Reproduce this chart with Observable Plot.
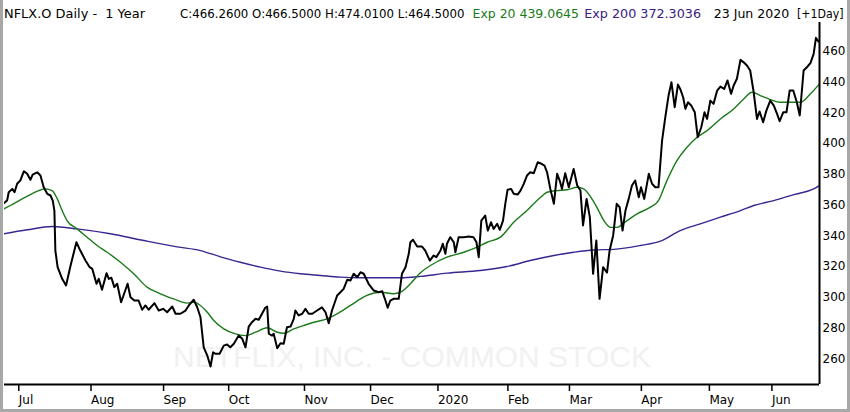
<!DOCTYPE html>
<html><head><meta charset="utf-8">
<script src="https://cdn.jsdelivr.net/npm/d3@7"></script>
<script src="https://cdn.jsdelivr.net/npm/@observablehq/plot@0.6"></script>
<style>
html,body{margin:0;padding:0;background:#fff;}
#wrap{position:relative;width:850px;height:412px;overflow:hidden;background:#fff;}
#hdr{position:absolute;left:0;top:0;}
#chart{position:absolute;left:3px;top:22px;}
#border{position:absolute;left:0;top:0;width:850px;height:412px;box-sizing:border-box;border-left:3px solid #a8a8a8;border-right:3px solid #a8a8a8;border-bottom:3px solid #a8a8a8;pointer-events:none;}
</style></head>
<body><div id="wrap"><svg id="hdr" width="850" height="22"></svg><div id="chart"></div><div id="border"></div></div>
<script>
// ---- data (x = trading-day index since 24 Jun 2019) ----
const closeDay = [0.3,1.3,1.8,2.9,3.6,4.4,5.4,6.5,7.5,8.5,9.2,10.6,11.6,12.6,13.7,14.7,15.4,15.9,16.2,16.9,18.3,19.5,20.9,22.7,23.9,25.5,26.8,27.6,28.9,29.6,30.6,32,32.7,33.5,34.4,35.3,36.5,38.5,39.4,40.6,41.9,43,44,45,46.8,48.1,49.5,50.7,52.3,53.3,54.8,56.4,57.4,58.9,60,61,62,63.1,64.1,64.9,65.6,66.9,68.2,69.2,70.2,71.3,72.8,73.9,74.9,75.9,76.9,78,79,80,81,81.6,82.1,83.1,83.6,84.7,85.7,86.7,87.7,88.8,89.8,90.3,91.3,92.4,93.4,94.4,95.5,97,98.5,99.6,100.6,101.6,103.2,104.2,105.2,106.3,107.3,108.3,109.4,110.4,111.4,112.9,114.5,116,117.1,118.1,118.8,119.6,120.6,122.2,123.2,124.3,125.3,125.8,126.6,127.9,129.4,130.4,131.8,133,133.8,135.1,135.8,136.6,137.1,138.1,139.2,139.7,140.7,142.3,143.8,145.3,146.2,146.9,147.7,148.9,149.7,150.7,151.5,152.6,153.4,154.4,155.1,155.8,156.9,157.7,158.9,159.8,160.8,161.8,162.8,163.9,165.1,165.9,167.2,168,169,170.1,171.1,171.9,172.6,173.6,174.7,176.2,177.3,178.3,179.1,180.2,181.2,182.2,183.2,184.2,185.3,186.5,187.3,188.4,189.5,190.4,191.3,192.2,193.2,194.2,195.2,196.3,197,198,199.4,200.4,201.4,202.4,203.5,204.5,205.5,206.4,207.4,208.4,209.1,210,210.7,211.5,212.5,213.6,214.5,215.6,216.6,217.4,218.4,219.4,220.5,221.5,222.7,223.7,224.8,225.6,226.6,227.7,228.7,229.7,230.7,231.7,232.8,233.6,234.7,235.7,236.9,238,239,239.8,240.9,241.9,242.9,244,245.1,246,247.2,248.2,249.3,250.3,251,251.8];
const closeVal = [361.2,362.9,368.3,370.5,368.3,373.8,376,382,380.3,376.4,379.8,381.3,379.2,371.6,367.3,366.2,362.9,356.4,330.4,319.6,312,307.7,320.7,335.8,330.4,323.9,319.6,318.5,308.8,312,304.9,315.7,312,312.7,306.6,308.8,296.8,308.8,300,297.9,297.9,291.9,294.7,291.9,296.2,291.4,292.5,290.3,294,289.3,289.3,291.4,294.7,298.4,293.5,287,267.5,262.1,255,264.3,263.3,263.3,268.6,269.3,267.5,269.8,275.1,273,267.5,281,283.8,286,285.4,289.3,293.2,294,276.3,275.1,276.3,266.9,270.1,269.8,280.5,281,286,291.4,288.2,289.3,292.5,289.3,289.3,291.4,293.5,290.3,283.1,291.4,301.2,303.3,305.5,311.4,310.9,315.3,313.1,316.3,315.3,308.8,304.4,303.3,304,297.9,293.2,297.9,299,299,315.3,319.6,328.3,335.8,337.4,333,333,330.4,323.9,327.2,326.1,330.4,334.8,328.3,334.8,339.1,335.8,329.3,339.1,339.1,339.5,339.1,335.8,326.1,349.9,353.2,343.4,348.8,344.5,347.8,343.9,349.9,360.8,369.9,370.5,367.3,366.8,369.4,373.8,379.2,381.3,380.7,387.8,387.2,385.7,381.3,370.5,360.8,380.3,375.9,370.5,380.7,371.6,383.5,372.7,369.4,346.7,364,352.1,315.3,336.9,299,319.6,316.1,330.4,340.2,360.8,358.6,343.4,356.4,364,372.7,376,365.1,371.6,364,380.3,373.8,371.6,371.6,401.9,417.1,431.2,439.8,423.6,438.3,435.5,430.1,422.5,426.8,424.7,420.3,404.1,410.6,420.3,416,427.9,425.8,434.4,437,435.5,441,432.3,437.7,442.1,454.4,452.8,450.7,447.5,434.5,416,420.8,413.8,421.4,427.9,424.7,419.3,414.5,420.3,420.3,434.5,434.5,426.8,418.2,447.5,449.6,452.3,458.3,468.7,466.3];

const ema20Day = [0.3,2.3,5.4,8.5,11.1,13.1,15.2,16.8,18.3,19.8,22.9,26,29.1,32.2,36.3,40.4,44.5,48.6,52.7,56.9,58.9,61,63.1,65.1,68.2,71.3,74.9,78,81.6,84.7,86.7,89.8,92.9,96,100.1,103.2,107.3,112.4,116.5,120.6,122.7,125.8,128.9,132,137.1,142.3,146.4,149.5,153.6,157.7,161.8,166,168,171.1,174.2,177.3,179.3,181.4,183.5,185.5,187.6,189.7,191.6,195.8,199.9,202.4,205,208.1,211.2,214.3,217.4,221.5,225.6,228.7,231.3,233.8,236.9,240,243.1,246.2,249.3,252.1];
const ema20Val = [357.5,359.7,363.4,366.8,369.4,370.5,369.4,364,356.4,349.9,344.5,339.1,333.7,329.3,322.8,315.3,306.6,302.3,299,296.2,296.8,294.7,290.3,284.9,279.5,276.6,275.1,277.3,280.2,277.3,276.6,279.5,281.7,283.8,286,289.3,294.7,301.2,303.3,302.3,303.3,308.8,316,320.7,326.1,329.3,332.6,335.8,339.1,348.8,356.4,365.1,368.3,369.4,369.9,371.6,370.5,365.5,358,350,345.5,345.5,348.2,354.3,358.6,362.9,375.9,388.9,397.6,404.1,408.4,416,422.5,429,433.3,431.2,428.6,426.8,426.8,426.8,432.3,438.8];

const ema200Day = [0.3,7.5,15.2,22.9,33.2,43.5,53.8,61,67.2,73.3,79.5,85.7,91.9,98,104.2,110.4,116.5,122.7,128.9,137.1,147.4,155.6,162.8,170.1,176.2,182.4,188.6,196.8,203,209.1,215.3,221.5,227.7,231.8,238,244.2,250.3,252.1];
const ema200Val = [341.3,343.9,346,344.5,341.3,336.9,332.8,330.4,326.3,322.8,319.6,317,315.3,314.2,313.1,312.7,312.7,312.7,313.6,315.7,317.4,320,323.9,327.2,329.3,330.8,331.2,333.7,336.5,343.4,347.8,352.1,356.4,359.7,362.9,366.8,370.5,372.7];

const monthTickDay = [4.6,26.9,49.3,69.4,92.8,113.2,134,155.6,174.6,196.8,217.8,237.1];
const monthTickLabel = ["Jul","Aug","Sep","Oct","Nov","Dec","2020","Feb","Mar","Apr","May","Jun"];
const yTicks = [260,280,300,320,340,360,380,400,420,440,460];

const ohlc = [466.26, 466.5, 474.01, 464.5];       // C, O, H, L
const ema20Last = 439.0645, ema200Last = 372.3036;
const titleText = "NFLX.O Daily -  1 Year";
const dateText = "23 Jun 2020";
const extraText = "[+1Day]";
const watermark = "NETFLIX, INC. - COMMON STOCK";

// ---- header ----
const GREEN = "#1a7a1a", PURPLE = "#3a2691";
const ohlcText = ["C","O","H","L"].map((k,i)=>`${k}:${ohlc[i].toFixed(4)}`).join(" ");
const hdrParts = [
  {t: titleText, x: 4, w: 141, c: "#000"},
  {t: ohlcText, x: 180, w: 284.5, c: "#000"},
  {t: `Exp 20 ${ema20Last.toFixed(4)}`, x: 472.5, w: 106.5, c: GREEN},
  {t: `Exp 200 ${ema200Last.toFixed(4)}`, x: 584.3, w: 116.7, c: "#3b2080"},
  {t: dateText, x: 713.7, w: 75.6, c: "#000"},
  {t: extraText, x: 797, w: 46.5, c: "#000"}
];
d3.select("#hdr").selectAll("text").data(hdrParts).join("text")
  .attr("x", d=>d.x).attr("y", 17.5)
  .attr("textLength", d=>d.w).attr("lengthAdjust", "spacingAndGlyphs")
  .attr("fill", d=>d.c)
  .style("font-family", "'DejaVu Sans', sans-serif").style("font-size", "12.5px").style("white-space", "pre")
  .text(d=>d.t);

// ---- chart ----
const closeRows = closeDay.map((d,i)=>({day:d, v:closeVal[i]}));
const e20Rows = ema20Day.map((d,i)=>({day:d, v:ema20Val[i]}));
const e200Rows = ema200Day.map((d,i)=>({day:d, v:ema200Val[i]}));
const xDomain = [0.5, 252.1];
const yDomain = [243.3, 478.7];
const tickLabel = new Map(monthTickDay.map((d,i)=>[d, monthTickLabel[i]]));

const plot = Plot.plot({
  width: 844, height: 387,
  marginLeft: 1, marginRight: 28, marginTop: 0, marginBottom: 25,
  x: {domain: xDomain},
  y: {domain: yDomain},
  style: {fontFamily: "'DejaVu Sans', sans-serif", fontSize: "12px", background: "transparent", overflow: "visible", color: "#000"},
  marks: [
    Plot.text([watermark], {frameAnchor: "bottom", textAnchor: "middle", lineAnchor: "middle", dy: -27,
      fontSize: 30, fontFamily: "'Liberation Sans', Arial, sans-serif", fill: "#f1f1f1"}),
    Plot.line(e200Rows, {x: "day", y: "v", stroke: PURPLE, strokeWidth: 1.4, curve: "monotone-x", clip: true}),
    Plot.line(e20Rows, {x: "day", y: "v", stroke: GREEN, strokeWidth: 1.4, curve: "monotone-x", clip: true}),
    Plot.line(closeRows, {x: "day", y: "v", stroke: "#000", strokeWidth: 2, clip: true}),
    Plot.ruleX([xDomain[1]], {stroke: "#000", strokeWidth: 2}),
    Plot.ruleY([yDomain[0]], {stroke: "#000", strokeWidth: 2}),
    Plot.axisX({anchor: "bottom", ticks: monthTickDay, tickFormat: d => tickLabel.get(d), tickSize: 7, tickPadding: 4,
      textAnchor: "start", dx: 1, stroke: "#000", strokeWidth: 1.5, fill: "#000", fontSize: 12, label: null}),
    Plot.axisY({anchor: "right", ticks: yTicks, tickSize: 0, tickPadding: 3, fill: "#000", fontSize: 12, label: null})
  ]
});
document.getElementById("chart").appendChild(plot);
</script></body></html>
